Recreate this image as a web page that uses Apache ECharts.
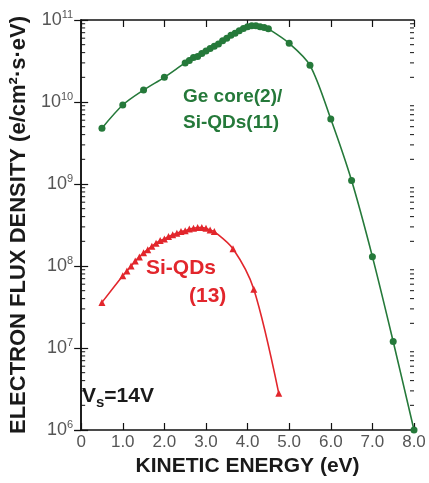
<!DOCTYPE html>
<html>
<head>
<meta charset="utf-8">
<script src="https://cdn.jsdelivr.net/npm/echarts@6/dist/echarts.min.js"></script>
<style>
  html, body { margin: 0; padding: 0; background: #fff; }
  #main { width: 429px; height: 483px; }
</style>
</head>
<body>
<div id="main"></div>
<script>
// Ge core(2)/Si-QDs(11) - kinetic energy (eV) and flux
var geEnergy = [0.5, 1.0, 1.5, 2.0, 2.5, 2.6, 2.7, 2.8, 2.9, 3.0, 3.1, 3.2, 3.3, 3.4, 3.5, 3.6, 3.7, 3.8, 3.9, 4.0, 4.1, 4.2, 4.3, 4.4, 4.5, 5.0, 5.5, 6.0, 6.5, 7.0, 7.5, 8.0];
var geFlux = [4.8e9, 9.2e9, 1.4e10, 2.0e10, 3.0e10, 3.2e10, 3.5e10, 3.6e10, 3.9e10, 4.2e10, 4.5e10, 4.8e10, 5.1e10, 5.6e10, 6.0e10, 6.5e10, 6.9e10, 7.4e10, 7.9e10, 8.3e10, 8.5e10, 8.5e10, 8.3e10, 8.1e10, 7.8e10, 5.2e10, 2.8e10, 6.2e9, 1.1e9, 1.3e8, 1.2e7, 1.0e6];

// Si-QDs(13)
var siEnergy = [0.5, 1.0, 1.1, 1.2, 1.3, 1.4, 1.5, 1.6, 1.7, 1.8, 1.9, 2.0, 2.1, 2.2, 2.3, 2.4, 2.5, 2.6, 2.7, 2.8, 2.9, 3.0, 3.1, 3.2, 3.65, 4.15, 4.75];
var siFlux = [3.6e7, 7.6e7, 8.7e7, 1.0e8, 1.15e8, 1.29e8, 1.45e8, 1.58e8, 1.74e8, 1.9e8, 2.04e8, 2.14e8, 2.29e8, 2.4e8, 2.51e8, 2.63e8, 2.69e8, 2.82e8, 2.88e8, 2.95e8, 2.95e8, 2.88e8, 2.75e8, 2.63e8, 1.62e8, 5.2e7, 2.8e6];

// log axis minor tick positions (2..9 x 10^n)
var minorTicks = [];
for (var d = 6; d < 11; d++) {
  for (var m = 2; m <= 9; m++) minorTicks.push(m * Math.pow(10, d));
}

var GREEN = '#25793a';
var RED = '#e2262c';
var FONT = 'Liberation Sans, Arial, sans-serif';

function zip(xs, ys) {
  var out = [];
  for (var i = 0; i < xs.length; i++) out.push([xs[i], ys[i]]);
  return out;
}

var chart = echarts.init(document.getElementById('main'));

var axisLine = { show: true, lineStyle: { color: '#111', width: 1.5 } };

var option = {
  animation: false,
  grid: { left: 72, right: 15, top: 20, bottom: 53, containLabel: false },
  xAxis: [
    {
      type: 'value', min: 0, max: 8, interval: 1,
      axisLine: axisLine,
      axisTick: { inside: true, length: 7, lineStyle: { color: '#111', width: 1.2 } },
      splitLine: { show: false },
      axisLabel: {
        fontFamily: FONT, fontSize: 17, color: '#555', margin: 4,
        formatter: function (v) { return v === 0 ? '0' : v.toFixed(1); }
      },
      name: 'KINETIC ENERGY (eV)',
      nameLocation: 'middle',
      nameGap: 13,
      nameTextStyle: { fontFamily: FONT, fontSize: 21, fontWeight: 'bold', color: '#1a1a1a' }
    },
    {
      type: 'value', min: 0, max: 8, interval: 1, position: 'top',
      axisLine: axisLine,
      axisTick: { inside: true, length: 7, lineStyle: { color: '#111', width: 1.2 } },
      axisLabel: { show: false },
      splitLine: { show: false }
    }
  ],
  yAxis: [
    {
      type: 'log', logBase: 10, min: 1e6, max: 1e11,
      axisLine: axisLine,
      axisTick: { inside: true, length: 7, lineStyle: { color: '#111', width: 1.2 } },
      splitLine: { show: false },
      axisLabel: {
        margin: 8,
        formatter: function (v) {
          return '{b|10}{e|' + Math.round(Math.log10(v)) + '}';
        },
        rich: {
          b: { fontFamily: FONT, fontSize: 18, color: '#555' },
          e: { fontFamily: FONT, fontSize: 11, color: '#555', padding: [0, 0, 11, 0] }
        }
      },
      name: 'ELECTRON FLUX DENSITY (e/cm\u00b2\u00b7s\u00b7eV)',
      nameLocation: 'middle',
      nameGap: 29,
      nameTextStyle: { fontFamily: FONT, fontSize: 22, fontWeight: 'bold', color: '#1a1a1a' }
    },
    {
      type: 'log', logBase: 10, min: 1e6, max: 1e11, position: 'right',
      axisLine: axisLine,
      axisTick: { inside: true, length: 7, lineStyle: { color: '#111', width: 1.2 } },
      axisLabel: { show: false },
      splitLine: { show: false }
    }
  ],
  graphic: [
    {
      type: 'text', left: 183, top: 84,
      style: {
        text: 'Ge core(2)/\nSi-QDs(11)',
        font: 'bold 19px ' + FONT, fill: GREEN, lineHeight: 26
      }
    },
    {
      type: 'text', left: 146, top: 258,
      style: { text: 'Si-QDs', font: 'bold 21px ' + FONT, fill: RED }
    },
    {
      type: 'text', left: 189, top: 286,
      style: { text: '(13)', font: 'bold 21px ' + FONT, fill: RED }
    },
    {
      type: 'text', left: 82, top: 386,
      style: {
        text: '{a|V}{s|s}{a|=14V}',
        rich: {
          a: { fontFamily: FONT, fontSize: 21, fontWeight: 'bold', fill: '#1a1a1a', color: '#1a1a1a' },
          s: { fontFamily: FONT, fontSize: 15, fontWeight: 'bold', fill: '#1a1a1a', color: '#1a1a1a', padding: [13, 0, 0, 0] }
        }
      }
    }
  ],
  series: [
    {
      name: 'minor',
      type: 'custom',
      silent: true,
      data: minorTicks,
      renderItem: function (params, api) {
        var v = api.value(0);
        var pl = api.coord([0, v]);
        var pr = api.coord([8, v]);
        var s = { stroke: '#111', lineWidth: 1 };
        return {
          type: 'group',
          children: [
            { type: 'line', shape: { x1: pl[0], y1: pl[1], x2: pl[0] + 4, y2: pl[1] }, style: s },
            { type: 'line', shape: { x1: pr[0], y1: pr[1], x2: pr[0] - 4, y2: pr[1] }, style: s }
          ]
        };
      },
      encode: { y: 0 }
    },
    {
      name: 'Ge core(2)/Si-QDs(11)',
      type: 'line',
      data: zip(geEnergy, geFlux),
      smooth: 0.3,
      symbol: 'circle',
      symbolSize: 7,
      itemStyle: { color: GREEN },
      lineStyle: { color: GREEN, width: 1.6 },
      clip: false
    },
    {
      name: 'Si-QDs(13)',
      type: 'line',
      data: zip(siEnergy, siFlux),
      smooth: 0.3,
      symbol: 'triangle',
      symbolSize: 7,
      itemStyle: { color: RED },
      lineStyle: { color: RED, width: 1.6 },
      clip: false
    }
  ]
};

chart.setOption(option);
window.onresize = function () {
  chart.resize();
};
</script>
</body>
</html>
